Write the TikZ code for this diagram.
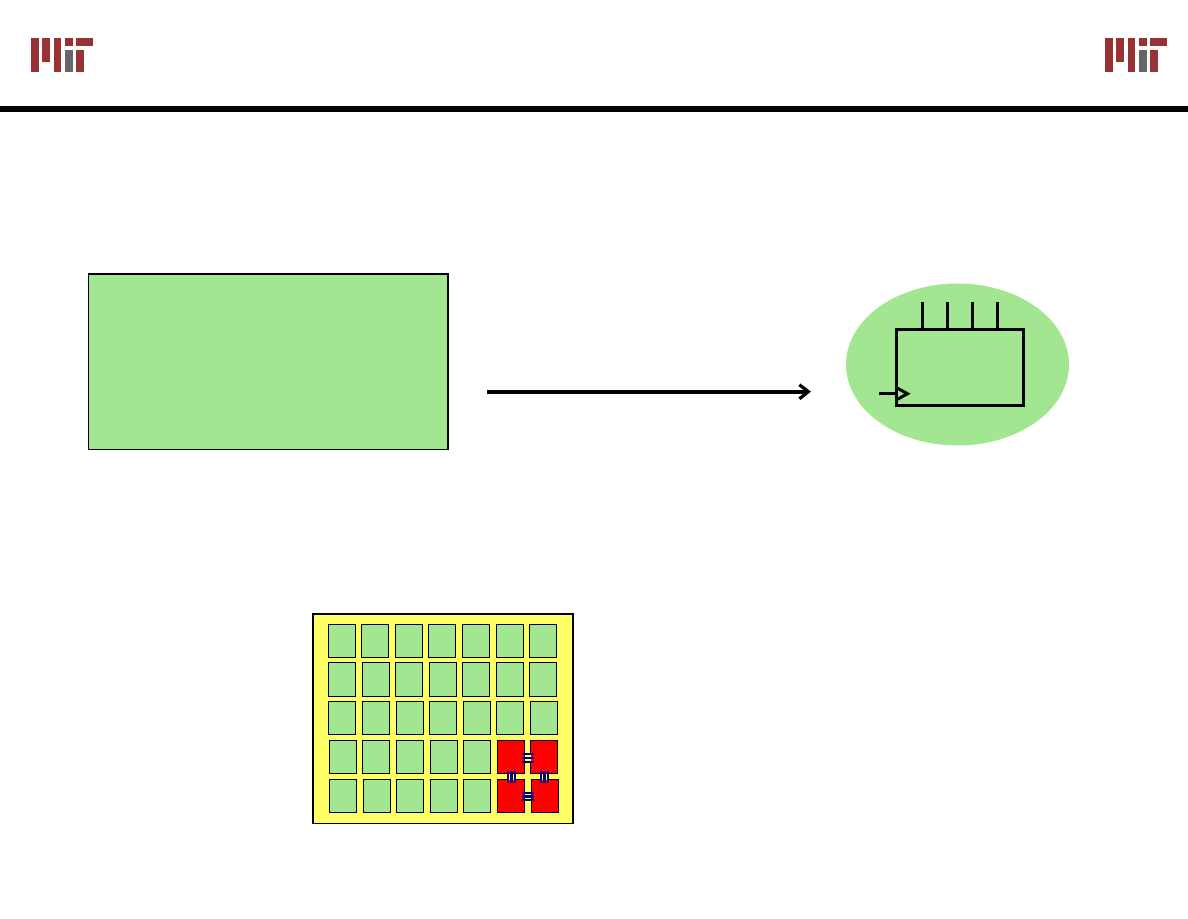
\documentclass[tikz,border=0pt]{standalone}
\usetikzlibrary{arrows.meta}
\definecolor{tilegreen}{HTML}{A2E692}
\definecolor{logored}{HTML}{993333}
\definecolor{logogray}{HTML}{666666}
\definecolor{padyellow}{HTML}{FFFF66}
\definecolor{linkblue}{HTML}{000080}
\tikzset{
	tile/.style={draw=black, fill=tilegreen, line width=1pt},
	redtile/.style={draw=black, fill=red, line width=1pt},
	wire/.style={draw=black, line width=3pt},
}
% one logo, x offset as argument
\newcommand{\LogoBars}[1]{
	\begin{scope}[xshift=#1pt]
		\fill[logored] (31, 38) rectangle (38.6, 72);
		\fill[logored] (42.4, 38) rectangle (50, 62);
		\fill[logored] (53.7, 38) rectangle (61.3, 72);
		\fill[logored] (65, 38) rectangle (72.6, 45.6);
		\fill[logogray] (65, 49.7) rectangle (72.6, 72);
		\fill[logored] (76.4, 49.7) rectangle (83.7, 72);
		\fill[logored] (76.4, 38) rectangle (92.8, 45.6);
	\end{scope}
}
\newcommand{\TileRow}[3]{
	\foreach \i in {#3}
	\filldraw[tile] (\i, #1) rectangle (\i + 27.3, #2);
}
% horizontal and vertical links between the red tiles
\newcommand{\LinkH}[2]{
	\fill[padyellow] (#1 - 3, #2 - 4) rectangle (#1 + 3, #2 + 4);
	\foreach \j in {-3.7, 0, 3.7}
	\draw[linkblue, line width=2.2pt] (#1 - 6, #2 + \j) -- (#1 + 6, #2 + \j);
}
\newcommand{\LinkV}[2]{
	\fill[padyellow] (#1 - 4, #2 - 3) rectangle (#1 + 4, #2 + 3);
	\foreach \j in {-3.7, 0, 3.7}
	\draw[linkblue, line width=2.2pt] (#1 + \j, #2 - 6) -- (#1 + \j, #2 + 6);
}
\begin{document}
\begin{tikzpicture}[x=1pt, y=-1pt]
	\useasboundingbox (0, 0) rectangle (1188, 918);
	
	\LogoBars{0}
	\LogoBars{1074}
	\fill[black] (0, 106) rectangle (1188, 112);
	
	\filldraw[draw=black, fill=tilegreen, line width=1.5pt] (88.5, 274) rectangle (448, 449.5);
	
	\coordinate (arrowstart) at (487, 391.7);
	\coordinate (arrowend) at (811, 391.7);
	\draw[line width=3.6pt, -{Straight Barb[length=9pt, width=14pt, line width=3.2pt]}] (arrowstart) -- (arrowend);
	
	\fill[tilegreen] (957.5, 364.5) ellipse (111.5 and 81);
	\draw[wire] (896.2, 329.3) rectangle (1023.8, 405.3);
	\foreach \i in {922, 947, 972, 997}
	\draw[wire] (\i, 302) -- (\i, 329.3);
	\draw[wire] (879, 393.7) -- (896.2, 393.7);
	\draw[wire] (896.2, 387.5) -- (907.5, 393.7) -- (896.2, 400);
	
	\filldraw[draw=black, fill=padyellow, line width=1.6pt] (312.7, 614) rectangle (573, 823.3);
	
	\TileRow{624.3}{657.3}{328.3, 361.3, 395.3, 428.3, 462.3, 496.3, 529.3}
	\TileRow{662.3}{696.3}{328.3, 362.3, 395.3, 429.3, 462.3, 496.3, 529.3}
	\TileRow{701.3}{734.3}{328.3, 362.3, 396.3, 429.3, 463.3, 496.3, 530.3}
	\TileRow{740.3}{773.3}{329.3, 362.3, 396.3, 430.3, 463.3}
	\TileRow{779.3}{812.3}{329.3, 363.3, 396.3, 430.3, 463.3}
	
	\filldraw[redtile] (497.3, 740.3) rectangle (524.7, 773.7);
	\filldraw[redtile] (530.3, 740.3) rectangle (557.7, 773.7);
	\filldraw[redtile] (497.3, 779.3) rectangle (524.7, 812.7);
	\filldraw[redtile] (531.3, 779.3) rectangle (558.7, 812.7);
	
	\LinkH{527.5}{758}
	\LinkH{527.5}{796.5}
	\LinkV{511.5}{777}
	\LinkV{544.5}{777}
\end{tikzpicture}
\end{document}
